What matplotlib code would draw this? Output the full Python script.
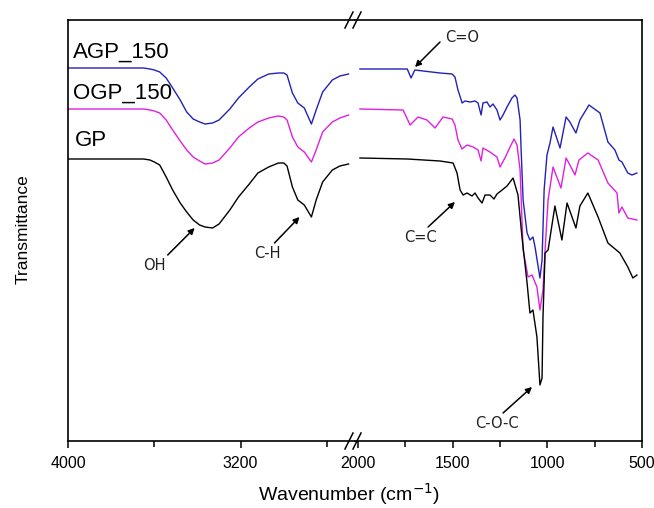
import matplotlib
matplotlib.use("Agg")
import matplotlib.pyplot as plt
from matplotlib.lines import Line2D

# FTIR spectra, values (arbitrary transmittance units)
# high wavenumber segment (4000 - 2700 cm-1), shared grid
wn_left = [4000, 3650, 3620, 3600, 3575, 3545, 3515, 3480, 3450, 3420, 3390, 3365,
           3330, 3300, 3250, 3210, 3160, 3120, 3070, 3025, 3000, 2985, 2960, 2935,
           2905, 2872, 2850, 2820, 2775, 2740, 2700]
agp_left = [372, 372, 371, 370, 368, 362, 352, 340, 328, 321, 318, 316,
            317, 320, 331, 342, 353, 361, 366, 367, 367, 365, 347, 337,
            332, 316, 330, 348, 360, 364, 366]
ogp_left = [331, 331, 330, 329, 327, 320, 310, 299, 290, 283, 279, 276,
            277, 280, 292, 303, 312, 318, 322, 324, 323, 320, 303, 293,
            288, 278, 290, 308, 318, 322, 325]
gp_left = [281, 281, 280, 278, 275, 263, 250, 237, 228, 220, 215, 213,
           212, 216, 230, 243, 256, 267, 273, 277, 277, 274, 253, 240,
           235, 223, 240, 258, 270, 274, 276]

# fingerprint segment (2000 - 500 cm-1)
agp_wn = [1990, 1740, 1720, 1700, 1567, 1503, 1488, 1472, 1450, 1435, 1408, 1382,
          1366, 1350, 1340, 1319, 1303, 1287, 1266, 1250, 1234, 1213, 1187, 1171,
          1160, 1144, 1139, 1128, 1107, 1092, 1076, 1065, 1039, 1028, 1017, 1002,
          986, 970, 933, 901, 881, 849, 828, 780, 722, 680, 643, 622, 606, 575,
          553, 527]
agp_val = [371, 371, 362, 370, 367, 366, 363, 350, 337, 339, 338, 339,
           337, 325, 337, 338, 333, 336, 330, 320, 325, 333, 342, 345,
           342, 320, 293, 240, 207, 200, 203, 193, 162, 180, 250, 285,
           297, 313, 292, 323, 318, 307, 320, 335, 327, 298, 290, 280, 278, 267,
           265, 267]

ogp_wn = [1990, 1762, 1725, 1683, 1636, 1593, 1551, 1503, 1488, 1472, 1451, 1424,
          1392, 1366, 1350, 1340, 1303, 1266, 1250, 1224, 1197, 1176, 1160, 1144,
          1128, 1102, 1081, 1055, 1039, 1023, 1012, 996, 970, 928, 901, 881, 854,
          833, 786, 732, 680, 632, 622, 606, 575, 527]
ogp_val = [331, 330, 315, 323, 320, 312, 323, 321, 315, 300, 291, 295,
           293, 290, 279, 292, 288, 283, 273, 282, 293, 301, 295, 270,
           190, 163, 165, 153, 130, 150, 190, 240, 273, 252, 282, 275, 265,
           280, 287, 280, 257, 247, 227, 233, 222, 220]

gp_wn = [1990, 1740, 1567, 1498, 1477, 1461, 1445, 1424, 1398, 1382, 1366, 1345,
         1329, 1303, 1282, 1266, 1239, 1213, 1181, 1155, 1134, 1107, 1092, 1076,
         1055, 1039, 1028, 1023, 1012, 996, 960, 923, 896, 849, 828, 786, 732,
         680, 617, 575, 548, 527]
gp_val = [282, 281, 279, 277, 267, 250, 245, 247, 244, 247, 242, 237,
          245, 245, 241, 246, 250, 254, 262, 245, 203, 157, 127, 130,
          103, 55, 62, 123, 187, 190, 234, 200, 237, 212, 234, 247, 223,
          197, 187, 173, 162, 165]

series = [
    ("AGP_150", agp_left, agp_wn, agp_val, "#2222b8"),
    ("OGP_150", ogp_left, ogp_wn, ogp_val, "#e020e0"),
    ("GP", gp_left, gp_wn, gp_val, "black"),
]

plt.rcParams['font.family'] = ['Liberation Sans', 'DejaVu Sans']

W, H = 654, 508
fig = plt.figure(figsize=(W / 100, H / 100), dpi=100)


def fx(px):
    return px / W


def fy(py):
    return 1 - py / H


x0, xj, x1 = 68, 355, 642
ytop, ybot = 20, 441
ax1 = fig.add_axes([fx(x0), fy(ybot), fx(xj - x0), fy(ytop) - fy(ybot)])
ax2 = fig.add_axes([fx(xj), fy(ybot), fx(x1 - xj), fy(ytop) - fy(ybot)])

for name, left, wn2, val2, col in series:
    ax1.plot(wn_left, left, color=col, lw=1.0)
    ax2.plot(wn2, val2, color=col, lw=1.0)

ax1.set_xlim(4000, 2670)
ax2.set_xlim(2016, 500)
for ax in (ax1, ax2):
    ax.set_ylim(-1, 420)
    ax.set_yticks([])
    for s in ax.spines.values():
        s.set_linewidth(1.2)
    ax.tick_params(axis='x', direction='out', length=5, width=1.1, labelsize=11.5, pad=6)
    ax.tick_params(axis='x', which='minor', direction='out', length=4, width=1.1)

ax1.spines['right'].set_visible(False)
ax2.spines['left'].set_visible(False)
ax1.set_xticks([4000, 3200])
ax1.set_xticks([3600, 2800], minor=True)
ax2.set_xticks([2000, 1500, 1000, 500])
ax2.set_xticks([1750, 1250, 750], minor=True)

# series names
ax1.text(3977, 388, "AGP_150", fontsize=16, va='center', ha='left')
ax1.text(3977, 347, "OGP_150", fontsize=16, va='center', ha='left')
ax1.text(3970, 300, "GP", fontsize=16, va='center', ha='left')

# band assignments
akw = dict(arrowstyle='-|>', color='black', lw=1.1, mutation_scale=9, shrinkA=0, shrinkB=0)
tkw = dict(fontsize=10.5, family='DejaVu Sans', ha='center', va='center', color='#222222')
ax1.annotate("", xy=(3413, 212), xytext=(3538, 185), arrowprops=akw)
ax1.text(3598, 174, "OH", **tkw)
ax1.annotate("", xy=(2927, 223), xytext=(3043, 197), arrowprops=akw)
ax1.text(3075, 187, "C-H", **tkw)
ax2.annotate("", xy=(1699, 373), xytext=(1567, 398), arrowprops=akw)
ax2.text(1451, 402, "C=O", **tkw)
ax2.annotate("", xy=(1488, 238), xytext=(1630, 213), arrowprops=akw)
ax2.text(1672, 203, "C=C", **tkw)
ax2.annotate("", xy=(1081, 53), xytext=(1234, 27), arrowprops=akw)
ax2.text(1266, 16, "C-O-C", **tkw)

# break marks on the axis
for yc in (ytop, ybot):
    for xc in (349, 357):
        fig.add_artist(Line2D([fx(xc - 4), fx(xc + 4)], [fy(yc + 8), fy(yc - 8)],
                              transform=fig.transFigure, color='black', lw=1.1))

fig.text(fx(23), fy(229), "Transmittance", rotation=90, fontsize=12.5, ha='center', va='center')
fig.text(fx(349), fy(494), "Wavenumber (cm$^{-1}$)", fontsize=14, ha='center', va='center')

fig.savefig("out.png", dpi=100)
